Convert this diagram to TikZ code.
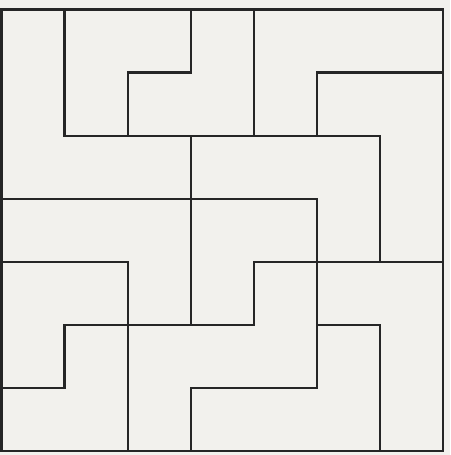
\documentclass[tikz,border=0pt]{standalone}
\begin{document}
\begin{tikzpicture}[
  edge/.style={line width=2.4pt, draw=black!85, line cap=rect, line join=miter}
]
\definecolor{paper}{RGB}{242,241,237}
\fill[paper] (0,0) rectangle (450pt,-455pt);
\useasboundingbox (0,0) rectangle (450pt,-455pt);
\begin{scope}[shift={(1.5pt,-9.5pt)}, x=63.1pt, y=-63.1pt]
  % outer border
  \draw[edge] (0,0) rectangle (7,7);
  % vertical segments
  \draw[edge] (1,0) -- (1,2);
  \draw[edge] (2,1) -- (2,2);
  \draw[edge] (3,0) -- (3,1);
  \draw[edge] (3,2) -- (3,5);
  \draw[edge] (4,0) -- (4,2);
  \draw[edge] (5,1) -- (5,2);
  \draw[edge] (6,2) -- (6,4);
  \draw[edge] (5,3) -- (5,6);
  \draw[edge] (2,4) -- (2,7);
  \draw[edge] (1,5) -- (1,6);
  \draw[edge] (3,6) -- (3,7);
  \draw[edge] (4,4) -- (4,5);
  \draw[edge] (6,5) -- (6,7);
  % horizontal segments
  \draw[edge] (2,1) -- (3,1);
  \draw[edge] (5,1) -- (7,1);
  \draw[edge] (1,2) -- (6,2);
  \draw[edge] (0,3) -- (5,3);
  \draw[edge] (0,4) -- (2,4);
  \draw[edge] (4,4) -- (7,4);
  \draw[edge] (1,5) -- (4,5);
  \draw[edge] (5,5) -- (6,5);
  \draw[edge] (0,6) -- (1,6);
  \draw[edge] (3,6) -- (5,6);
\end{scope}
\end{tikzpicture}
\end{document}
